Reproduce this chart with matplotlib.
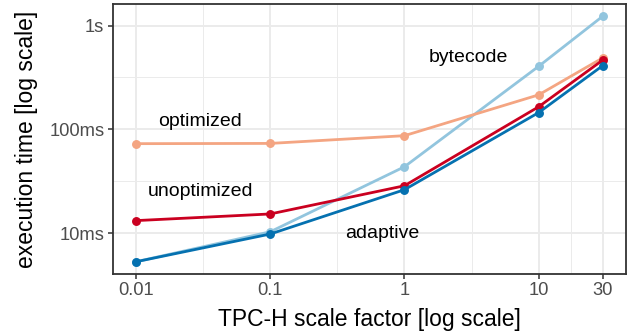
import numpy as np
import matplotlib
matplotlib.use("Agg")
import matplotlib.pyplot as plt

plt.rcParams['font.family'] = ['Liberation Sans', 'DejaVu Sans']

scale_factors = [0.01, 0.1, 1, 10, 30]
x_tick_labels = ["0.01", "0.1", "1", "10", "30"]
y_ticks = [0.01, 0.1, 1]
y_tick_labels = ["10ms", "100ms", "1s"]

bytecode = [0.0053, 0.0103, 0.0436, 0.405, 1.23]
optimized = [0.0728, 0.0732, 0.0869, 0.215, 0.488]
unoptimized = [0.0132, 0.0153, 0.0286, 0.165, 0.465]
adaptive = [0.0053, 0.0098, 0.0262, 0.145, 0.411]

series = [
    ("bytecode", bytecode, "#92C5DE"),
    ("optimized", optimized, "#F4A582"),
    ("unoptimized", unoptimized, "#CA0020"),
    ("adaptive", adaptive, "#0571B0"),
]

labels = [
    ("optimized", 0.03, 0.118),
    ("unoptimized", 0.03, 0.025),
    ("bytecode", 3.0, 0.49),
    ("adaptive", 0.68, 0.01),
]

fig = plt.figure(figsize=(6.33, 3.35), dpi=100)
ax = fig.add_axes([112.7/633, 1-274/335, (626-112.7)/633, (274-4)/335])
ax.set_xscale('log')
ax.set_yscale('log')

# limits with 5% expansion in log space (ggplot style)
lx = np.log10(scale_factors)
allv = np.concatenate([bytecode, optimized, unoptimized, adaptive])
ly = np.log10(allv)
dx = (lx.max() - lx.min()) * 0.05
dy = (ly.max() - ly.min()) * 0.05
ax.set_xlim(10**(lx.min()-dx), 10**(lx.max()+dx))
ax.set_ylim(10**(ly.min()-dy), 10**(ly.max()+dy))

# grid
major_x = np.log10(scale_factors)
minor_x = [(a+b)/2 for a, b in zip(major_x[:-1], major_x[1:])]
major_y = np.log10(y_ticks)
minor_y = [(a+b)/2 for a, b in zip(major_y[:-1], major_y[1:])]
for m in minor_x:
    ax.axvline(10**m, color='#EBEBEB', lw=0.7, zorder=0)
for m in minor_y:
    ax.axhline(10**m, color='#EBEBEB', lw=0.7, zorder=0)
for m in major_x:
    ax.axvline(10**m, color='#EBEBEB', lw=1.4, zorder=0)
for m in major_y:
    ax.axhline(10**m, color='#EBEBEB', lw=1.4, zorder=0)

for name, vals, col in series:
    ax.plot(scale_factors, vals, color=col, lw=2.0, marker='o', ms=5.4,
            solid_capstyle='butt', zorder=3)

for text, x, y in labels:
    ax.text(x, y, text, fontsize=14, ha='center', va='center', color='black', zorder=4)

ax.set_xticks(scale_factors)
ax.set_xticklabels(x_tick_labels)
ax.set_yticks(y_ticks)
ax.set_yticklabels(y_tick_labels)
ax.xaxis.set_minor_locator(matplotlib.ticker.NullLocator())
ax.yaxis.set_minor_locator(matplotlib.ticker.NullLocator())
ax.tick_params(axis='both', which='major', length=3.5, width=1.1, color='#333333',
               labelcolor='#4D4D4D', labelsize=13.2, pad=2.5)

for sp in ax.spines.values():
    sp.set_color('#333333')
    sp.set_linewidth(1.3)

ax.set_xlabel("TPC-H scale factor [log scale]", fontsize=16.5, labelpad=6)
ax.set_ylabel("execution time [log scale]", fontsize=16.5, labelpad=8)

fig.savefig("out.png", dpi=100)
